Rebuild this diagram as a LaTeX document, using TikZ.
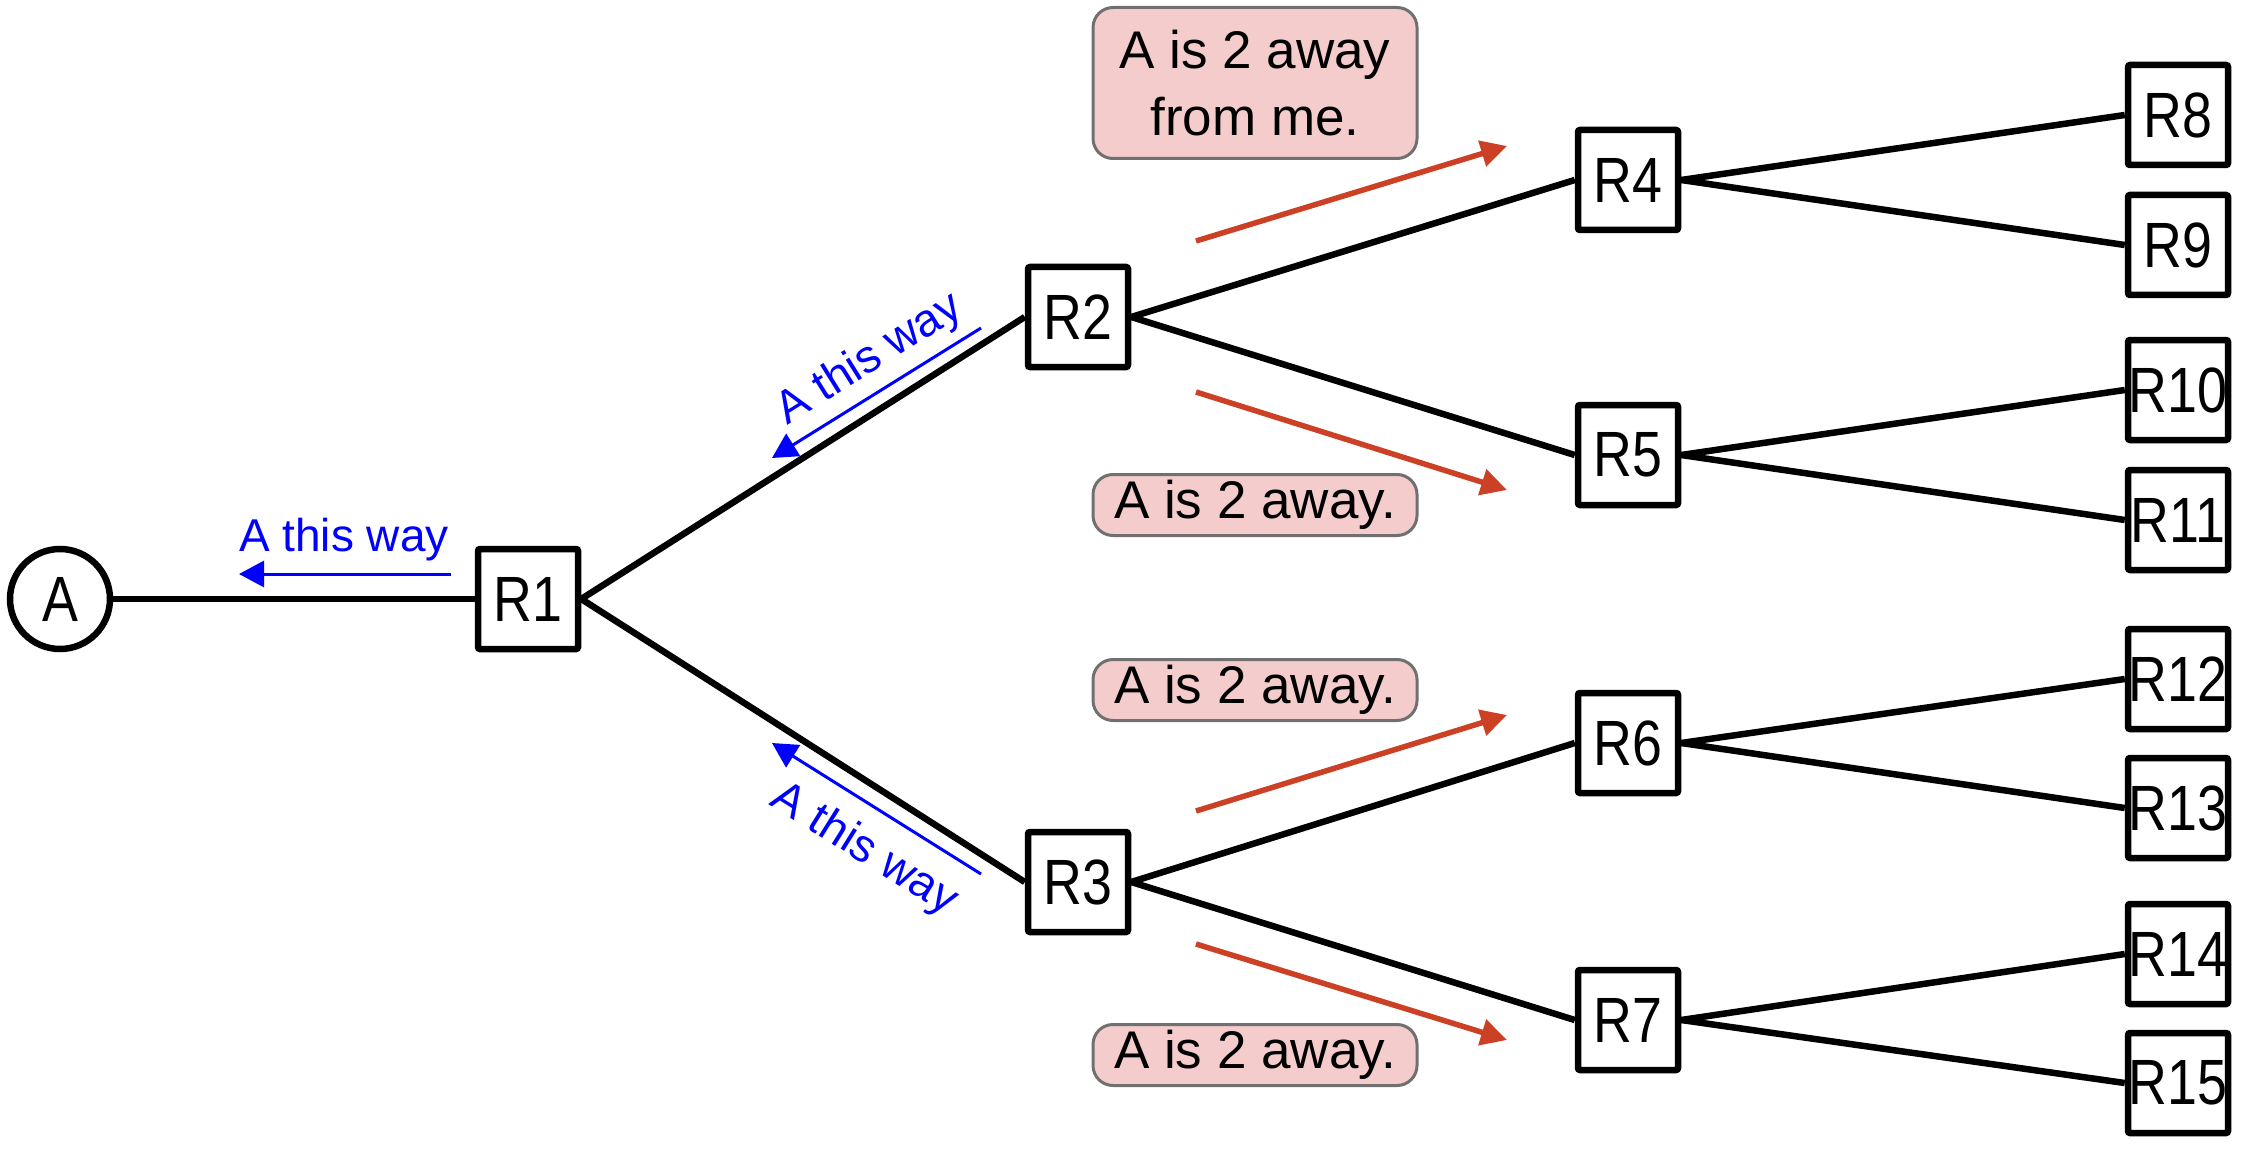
\documentclass[tikz,border=0pt]{standalone}
\usepackage{fontspec}
\setmainfont{Liberation Sans}
\usetikzlibrary{arrows.meta}
\definecolor{redberry}{HTML}{CC4125}
\definecolor{pinkfill}{HTML}{F4CCCC}
\definecolor{pinkline}{HTML}{707070}
\newcommand{\rlab}[1]{\scalebox{0.84}[1]{#1}}
\begin{document}
\begin{tikzpicture}[x=1pt,y=-1pt,
  router/.style={draw=black, line width=6.5pt, rounded corners=2pt, fill=white,
    minimum width=100pt, minimum height=100pt, inner sep=0pt,
    font=\fontsize{64}{66}\selectfont},
  host/.style={draw=black, line width=6.5pt, circle, fill=white, minimum size=100pt,
    inner sep=0pt, font=\fontsize{64}{66}\selectfont},
  link/.style={draw=black, line width=6.5pt},
  msg/.style={draw=pinkline, fill=pinkfill, line width=3pt, rounded corners=20pt,
    minimum width=324pt, inner sep=0pt, align=center,
    font=\fontsize{53}{67}\selectfont},
  redarrow/.style={draw=redberry, line width=5.5pt, -{Triangle[length=26pt,width=26pt]}},
  bluearrow/.style={draw=blue, line width=3pt, -{Triangle[length=25pt,width=26pt]}},
  bluetext/.style={text=blue, inner sep=0pt, font=\fontsize{46}{50}\selectfont}
]
\useasboundingbox (0,0) rectangle (2259,1150);

\node[host] (A) at (60,599) {\rlab{A}};
\node[router] (R1) at (528,599) {\rlab{R1}};
\node[router] (R2) at (1078,317) {\rlab{R2}};
\node[router] (R3) at (1078,882) {\rlab{R3}};
\node[router] (R4) at (1628,180) {\rlab{R4}};
\node[router] (R5) at (1628,455) {\rlab{R5}};
\node[router] (R6) at (1628,743) {\rlab{R6}};
\node[router] (R7) at (1628,1020) {\rlab{R7}};
\node[router] (R8) at (2178,115) {\rlab{R8}};
\node[router] (R9) at (2178,245) {\rlab{R9}};
\node[router] (R10) at (2178,390) {\rlab{R10}};
\node[router] (R11) at (2178,520) {\rlab{R11}};
\node[router] (R12) at (2178,679) {\rlab{R12}};
\node[router] (R13) at (2178,808) {\rlab{R13}};
\node[router] (R14) at (2178,954) {\rlab{R14}};
\node[router] (R15) at (2178,1083) {\rlab{R15}};

\draw[link] (A) -- (R1);
\draw[link] (R1.east) -- (R2.west);
\draw[link] (R1.east) -- (R3.west);
\draw[link] (R2.east) -- (R4.west);
\draw[link] (R2.east) -- (R5.west);
\draw[link] (R3.east) -- (R6.west);
\draw[link] (R3.east) -- (R7.west);
\draw[link] (R4.east) -- (R8.west);
\draw[link] (R4.east) -- (R9.west);
\draw[link] (R5.east) -- (R10.west);
\draw[link] (R5.east) -- (R11.west);
\draw[link] (R6.east) -- (R12.west);
\draw[link] (R6.east) -- (R13.west);
\draw[link] (R7.east) -- (R14.west);
\draw[link] (R7.east) -- (R15.west);

% blue arrows and labels
\coordinate (b1s) at (451,574);
\coordinate (b1e) at (239,574);
\coordinate (b2s) at (981,328);
\coordinate (b2e) at (772,458);
\coordinate (b3s) at (981,874);
\coordinate (b3e) at (772,743);
\draw[bluearrow] (b1s) -- (b1e);
\draw[bluearrow] (b2s) -- (b2e);
\draw[bluearrow] (b3s) -- (b3e);
\node[bluetext] (t1) at (344,540) {A this way};
\node[bluetext, rotate=32] (t2) at (870,360) {A this way};
\node[bluetext, rotate=-32] (t3) at (864,850) {A this way};

% red arrows
\coordinate (r1s) at (1196,241);
\coordinate (r1e) at (1507,146);
\coordinate (r2s) at (1196,392);
\coordinate (r2e) at (1507,490);
\coordinate (r3s) at (1196,811);
\coordinate (r3e) at (1507,715);
\coordinate (r4s) at (1196,944);
\coordinate (r4e) at (1507,1040);
\draw[redarrow] (r1s) -- (r1e);
\draw[redarrow] (r2s) -- (r2e);
\draw[redarrow] (r3s) -- (r3e);
\draw[redarrow] (r4s) -- (r4e);

% messages
\node[msg, minimum height=151pt] (m1) at (1255,83) {A is 2 away\\from me.};
\node[msg, minimum height=61pt] (m2) at (1255,505) {A is 2 away.};
\node[msg, minimum height=61pt] (m3) at (1255,690) {A is 2 away.};
\node[msg, minimum height=61pt] (m4) at (1255,1055) {A is 2 away.};
\end{tikzpicture}
\end{document}
